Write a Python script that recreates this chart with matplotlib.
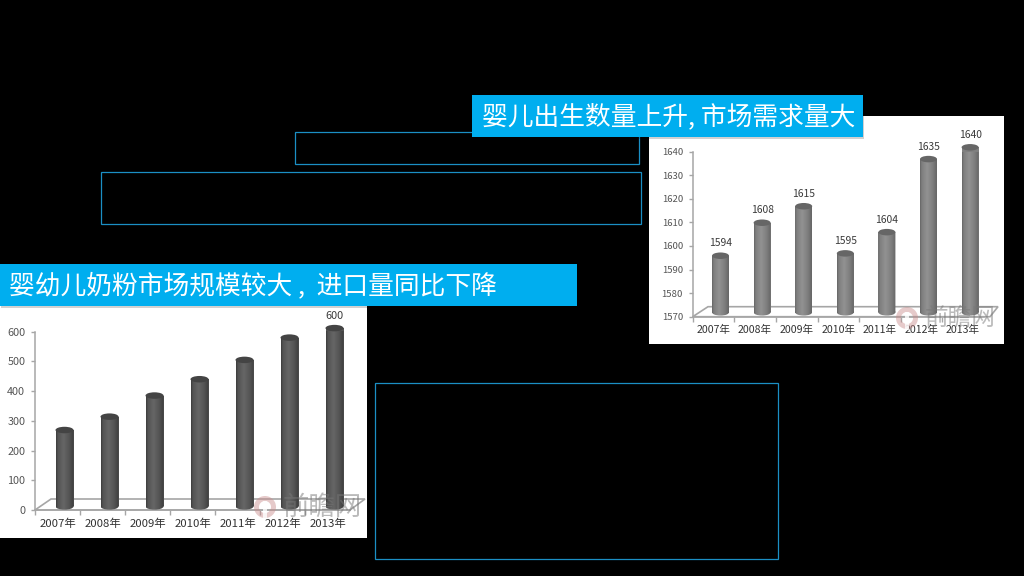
import numpy as np
import matplotlib
matplotlib.use("Agg")
import matplotlib.pyplot as plt
from matplotlib.patches import Rectangle, Ellipse, PathPatch, Polygon, Wedge
from matplotlib.path import Path

plt.rcParams['font.family'] = ['Noto Sans CJK SC', 'DejaVu Sans']

years = ['2007年', '2008年', '2009年', '2010年', '2011年', '2012年', '2013年']
market_values = [257, 302, 373, 428, 493, 568, 600]
birth_values = [1594, 1608, 1615, 1595, 1604, 1635, 1640]
market_labels = [None, None, None, None, None, None, '600']
birth_labels = ['1594', '1608', '1615', '1595', '1604', '1635', '1640']
market_ticks = [0, 100, 200, 300, 400, 500, 600]
birth_ticks = [1570, 1580, 1590, 1600, 1610, 1620, 1630, 1640]
title_market = '婴幼儿奶粉市场规模较大 ,  进口量同比下降'
title_birth = '婴儿出生数量上升, 市场需求量大'
watermark = '前瞻网'

W, H = 1024, 576
fig = plt.figure(figsize=(W / 100, H / 100), dpi=100, facecolor='black')

back = fig.add_axes([0, 0, 1, 1], zorder=0)
back.set_xlim(0, W); back.set_ylim(H, 0); back.axis('off')
front = fig.add_axes([0, 0, 1, 1], zorder=5)
front.set_xlim(0, W); front.set_ylim(H, 0); front.axis('off')
front.patch.set_alpha(0)

# white picture panels
back.add_patch(Rectangle((0, 305), 367, 233, fc='white', ec='none'))
back.add_patch(Rectangle((649, 116), 355, 228, fc='white', ec='none'))

# empty outlined boxes
for x0, y0, x1, y1 in [(295, 132, 639, 164), (101, 172, 641, 224), (375, 383, 778, 559)]:
    back.add_patch(Rectangle((x0, y0), x1 - x0, y1 - y0, fc='none', ec='#1b8fc4', lw=0.9))

# banners
for (x0, y0, x1, y1), txt, tx in [((0, 264, 577, 306), title_market, 9),
                                  ((472, 95, 863, 137), title_birth, 482)]:
    front.add_patch(Rectangle((x0 + 1, y0 + 2), x1 - x0, y1 - y0, fc='#000000', alpha=0.18, ec='none'))
    front.add_patch(Rectangle((x0, y0), x1 - x0, y1 - y0, fc='#00AEEF', ec='none'))
    front.text(tx, (y0 + y1) / 2 + 0.5, txt, color='white', fontsize=18.55, va='center', ha='left')


def chart(left, slot, y0, ytop, vals, ticks, labels, floor, base_col, mid_col, dark_col, top_col, bw, shift,
          xfs, yfs, lfs, wm, wm_off, wm_fs):
    ax = fig.add_axes([left / W, 1 - y0 / H, slot * 7 / W, (y0 - ytop) / H], zorder=2)
    ax.patch.set_alpha(0)
    lo, hi = ticks[0], ticks[-1]
    ppu = (y0 - ytop) / (hi - lo)
    dy = shift / ppu
    eh = 6.5 / ppu
    w = bw / slot
    dx = 7 / slot
    xs = np.arange(len(vals))
    # floor of the 3D plot
    back.add_patch(Polygon(floor, closed=True, fc='none', ec='#a6a6a6', lw=1.2))
    ax.bar(xs + dx, np.array(vals) - lo, width=w, bottom=lo + dy, color=base_col, zorder=2, clip_on=False)
    grad = np.interp(np.linspace(0, 1, 64), [0, 0.1, 0.42, 0.75, 1],
                     [0.0, 0.55, 1.0, 0.55, 0.0])
    c0 = np.array(matplotlib.colors.to_rgb(dark_col))
    c1 = np.array(matplotlib.colors.to_rgb(mid_col))
    img = (c0[None, :] * (1 - grad[:, None]) + c1[None, :] * grad[:, None])[None, :, :]
    for x0_, v, lab in zip(xs, vals, labels):
        x = x0_ + dx
        rect = Path([(x - w / 2, lo + dy), (x + w / 2, lo + dy), (x + w / 2, v + dy),
                     (x - w / 2, v + dy), (x - w / 2, lo + dy)], closed=True)
        e = Ellipse((x, lo + dy), w, eh)
        epath = e.get_path().transformed(e.get_patch_transform())
        clip = PathPatch(Path.make_compound_path(rect, epath), transform=ax.transData, fc='none', ec='none')
        clip.set_clip_on(False)
        ax.add_patch(clip)
        im = ax.imshow(img, extent=(x - w / 2, x + w / 2, lo - eh, v + dy), aspect='auto', zorder=3)
        im.set_clip_path(clip)
        im.set_clip_box(None)
        ax.add_patch(Ellipse((x, v + dy), w, eh, fc=top_col, ec='none', zorder=4, clip_on=False))
        if lab:
            ax.text(x, v + dy + 7.5 / ppu, lab, ha='center', va='bottom', fontsize=lfs, color='#3a3a3a',
                    zorder=5, clip_on=False)
    ax.set_xlim(-0.5, len(vals) - 0.5)
    ax.set_ylim(lo, hi)
    ax.set_yticks(ticks)
    ax.set_xticks(xs - 0.5, minor=False)
    ax.set_xticklabels([''] * len(xs))
    ax.set_xticks(xs, labels=years, minor=True)
    ax.tick_params(axis='x', which='minor', length=0, pad=6, labelsize=xfs, labelcolor='#333333')
    ax.tick_params(axis='x', which='major', length=3.5, color='#a6a6a6', width=1)
    ax.tick_params(axis='y', length=3, color='#a6a6a6', width=1, pad=4, labelsize=yfs, labelcolor='#555555')
    ax.spines[['top', 'right']].set_visible(False)
    ax.spines[['left', 'bottom']].set_color('#a6a6a6')
    ax.spines[['left', 'bottom']].set_linewidth(1.1)
    # watermark
    wx, wy = wm
    front.add_patch(Wedge((wx, wy), 11, 0, 360, width=5, fc='#c98a8a', ec='none', alpha=0.45))
    front.add_patch(Rectangle((wx - 2, wy - 6), 4, 18, fc='white', ec='none', alpha=0.8))
    front.text(wx + wm_off, wy, watermark, ha='center', va='center', fontsize=wm_fs, color='#777777', alpha=0.5)


chart(35, 45, 510, 331.7, market_values, market_ticks, market_labels,
      [(35, 510), (51, 499), (365, 499), (350, 510)],
      '#555555', '#666666', '#3c3c3c', '#444444', 18, 3.6, 8.2, 7.8, 7.8, (265, 507), 57, 19)
chart(692.7, 41.6, 316.7, 151.7, birth_values, birth_ticks, birth_labels,
      [(692.7, 316.7), (708, 306.7), (998, 306.7), (990, 316.7)],
      '#808080', '#929292', '#666666', '#666666', 17, 4.4, 7.6, 6.9, 7.4, (907, 318), 53, 17)

fig.savefig('out.png', dpi=100, facecolor='black')
